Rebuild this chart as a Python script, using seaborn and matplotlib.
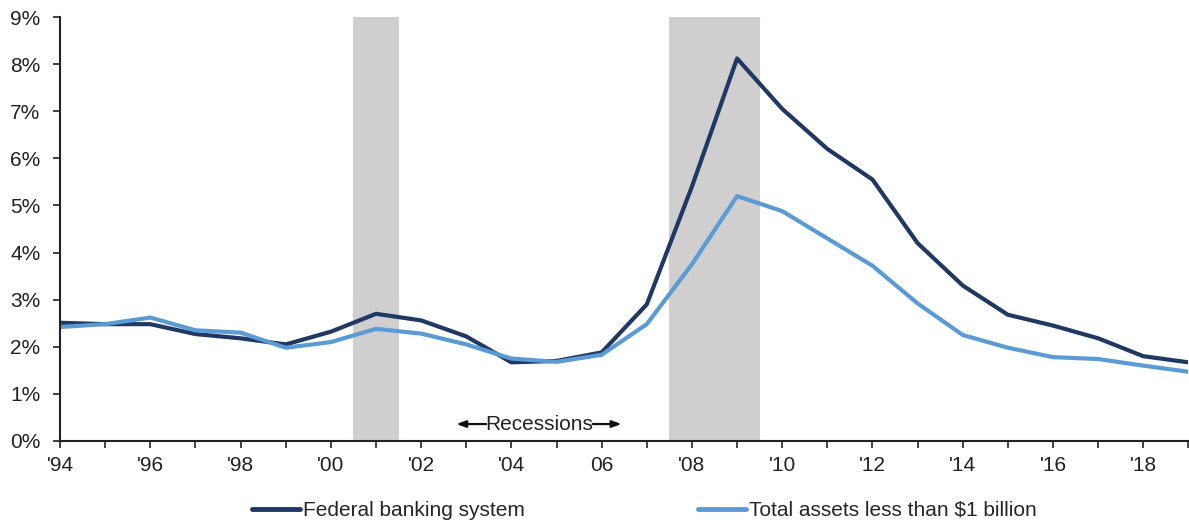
#!/usr/bin/env python3

import matplotlib

matplotlib.use("Agg")
import matplotlib.pyplot as plt
import pandas
import seaborn as sns
from matplotlib.ticker import FuncFormatter, MultipleLocator

# Values (percent)
years = list(range(1994, 2020))
federal = [2.51, 2.48, 2.48, 2.27, 2.18, 2.05, 2.32, 2.70, 2.56, 2.22, 1.67, 1.70, 1.88,
           2.90, 5.40, 8.12, 7.05, 6.20, 5.55, 4.20, 3.30, 2.68, 2.45, 2.18, 1.80, 1.67]
small_banks = [2.42, 2.48, 2.62, 2.35, 2.30, 1.98, 2.10, 2.38, 2.28, 2.05, 1.75, 1.68, 1.83,
               2.48, 3.75, 5.20, 4.88, 4.30, 3.72, 2.92, 2.25, 1.98, 1.78, 1.74, 1.60, 1.47]
series_names = ["Federal banking system", "Total assets less than $1 billion"]
recessions = [(2000.5, 2001.5), (2007.5, 2009.5)]


def main():
    df = pandas.DataFrame(
        {
            "year": years * 2,
            "value": federal + small_banks,
            "series": [series_names[0]] * len(years) + [series_names[1]] * len(years),
        }
    )

    sns.set_style("white")
    plt.rcParams["font.family"] = ["Liberation Sans", "DejaVu Sans"]
    fsize = 15

    fig = plt.figure(figsize=(11.89, 5.25), dpi=100)
    ax = fig.add_axes([0.0505, 0.16, 0.949, 0.8076])

    # Recession shading
    for start, end in recessions:
        ax.axvspan(start, end, color="#d0cece", lw=0, zorder=0)

    palette = {series_names[0]: "#1f3864", series_names[1]: "#5b9bd5"}
    sns.lineplot(
        data=df,
        x="year",
        y="value",
        hue="series",
        palette=palette,
        linewidth=3,
        ax=ax,
        legend=False,
    )

    ax.set_xlim(1994, 2019)
    ax.set_ylim(0, 9)
    ax.yaxis.set_major_locator(MultipleLocator(1))
    ax.yaxis.set_major_formatter(FuncFormatter(lambda v, p: f"{int(v)}%"))
    ax.xaxis.set_major_locator(MultipleLocator(2))
    ax.xaxis.set_minor_locator(MultipleLocator(1))

    def year_label(v, p):
        yr = int(round(v))
        if yr == 2006:
            return "06"
        if yr > 2018:
            return ""
        return f"'{yr % 100:02d}"

    ax.xaxis.set_major_formatter(FuncFormatter(year_label))
    ax.set_xlabel("")
    ax.set_ylabel("")
    ax.tick_params(axis="both", labelsize=fsize, colors="#222222", labelcolor="#222222")
    ax.tick_params(axis="x", which="both", direction="out", length=5, width=1.2,
                   bottom=True, pad=6)
    ax.tick_params(axis="y", direction="out", length=5, width=1.2, left=True, pad=9)

    sns.despine(ax=ax, top=True, right=True)
    for side in ["left", "bottom"]:
        ax.spines[side].set_color("#222222")
        ax.spines[side].set_linewidth(1.5)

    # Recessions label with arrows on each side
    ax.text(2004.61, 0.36, "Recessions", ha="center", va="center",
            fontsize=fsize, color="#222222")
    arrow_kw = dict(arrowstyle="-|>,head_length=0.55,head_width=0.2",
                    color="#111111", lw=1.6, shrinkA=0, shrinkB=0)
    ax.annotate("", xy=(2002.78, 0.36), xytext=(2003.44, 0.36), arrowprops=arrow_kw)
    ax.annotate("", xy=(2006.44, 0.36), xytext=(2005.80, 0.36), arrowprops=arrow_kw)

    handles = [
        plt.Line2D([], [], color=palette[name], linewidth=3.5) for name in series_names
    ]
    fig.legend(
        handles,
        series_names,
        loc="lower center",
        bbox_to_anchor=(0.5417, -0.026),
        ncol=2,
        frameon=False,
        fontsize=fsize,
        handlelength=2.3,
        handletextpad=0.15,
        columnspacing=8.3,
    )

    plt.savefig("out.png", dpi=100)
    plt.clf()


if __name__ == "__main__":
    main()
